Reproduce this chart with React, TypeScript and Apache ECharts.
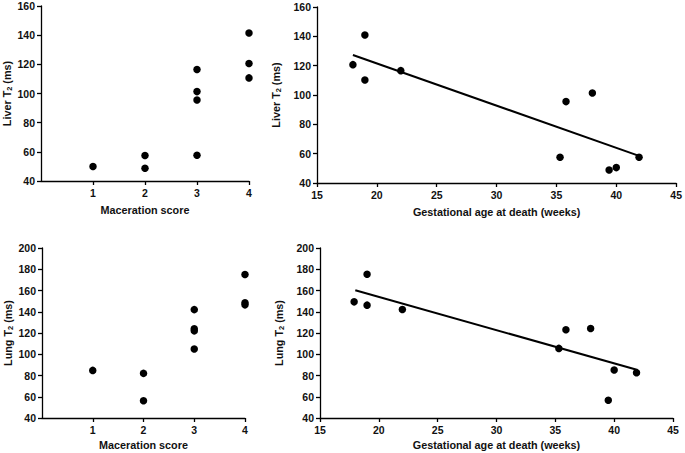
import React, { useEffect, useRef } from "react";
import * as echarts from "echarts";

const macerationScores = [1, 2, 2, 3, 3, 3, 3, 4, 4, 4];
const liverByScore = [50, 57.5, 48.7, 116.4, 101.3, 95.6, 57.6, 141.5, 120.6, 110.7];
const lungByScore = [84.8, 82, 56.3, 142, 124, 122, 105, 175, 148.5, 146.5];

const gestAgeLiver = [18, 19, 19, 22, 35.3, 35.8, 38, 39.4, 40, 41.9];
const liverByAge = [120.7, 140.9, 110.2, 116.6, 57.5, 95.5, 101.4, 48.9, 50.5, 57.5];
const gestAgeLung = [17.9, 19, 19, 22, 35.3, 35.9, 38, 39.5, 40, 41.9];
const lungByAge = [149.3, 175.3, 146.2, 142.1, 105.5, 123, 124.3, 56.7, 85.1, 82.6];

const liverTrendX = [18, 41.9];
const liverTrendY = [127.3, 58.5];
const lungTrendX = [18, 42];
const lungTrendY = [160.3, 85.1];

const FONT = "'Liberation Sans', Arial, sans-serif";
const TXT = "#111";

const zip = (xs: number[], ys: number[]) => xs.map((x, i) => [x, ys[i]]);

export default function App() {
  const ref = useRef<HTMLDivElement>(null);
  useEffect(() => {
    if (!ref.current) return;
    const chart = echarts.init(ref.current, null, { renderer: "svg" });
    const axisLine = { show: true, lineStyle: { color: "#000", width: 1.3 } };
    const axisTick = { show: true, inside: false, length: 4, lineStyle: { color: "#000", width: 1.3 } };
    const axisLabel = { color: TXT, fontFamily: FONT, fontWeight: "bold" as const, fontSize: 10.5 };
    const nameStyle = {
      color: TXT,
      fontFamily: FONT,
      fontWeight: "bold" as const,
      fontSize: 10.8,
      rich: {
        sub: { fontSize: 7.5, fontFamily: FONT, fontWeight: "bold" as const, color: TXT, padding: [5, 0, 0, 0] },
      },
    };
    const grids = [
      { left: 41, top: 6, width: 208, height: 175 },
      { left: 317, top: 7, width: 361, height: 176 },
      { left: 42, top: 248, width: 203, height: 170 },
      { left: 320, top: 248, width: 353, height: 170 },
    ];
    const xAxes = [
      { min: 0, max: 4, interval: 1, name: "Maceration score", showMin: false },
      { min: 15, max: 45, interval: 5, name: "Gestational age at death (weeks)", showMin: true },
      { min: 0, max: 4, interval: 1, name: "Maceration score", showMin: false },
      { min: 15, max: 45, interval: 5, name: "Gestational age at death (weeks)", showMin: true },
    ].map((a, i) => ({
      type: "value" as const,
      gridIndex: i,
      min: a.min,
      max: a.max,
      interval: a.interval,
      name: a.name,
      nameLocation: "middle" as const,
      nameGap: i < 2 ? 23 : 21,
      nameTextStyle: nameStyle,
      axisLine,
      axisTick,
      axisLabel: { ...axisLabel, margin: 6, showMinLabel: a.showMin },
      splitLine: { show: false },
    }));
    const yAxes = [
      { min: 40, max: 160, name: "Liver T{sub|2} (ms)" },
      { min: 40, max: 160, name: "Liver T{sub|2} (ms)" },
      { min: 40, max: 200, name: "Lung T{sub|2} (ms)" },
      { min: 40, max: 200, name: "Lung T{sub|2} (ms)" },
    ].map((a, i) => ({
      type: "value" as const,
      gridIndex: i,
      min: a.min,
      max: a.max,
      interval: 20,
      name: a.name,
      nameLocation: "middle" as const,
      nameGap: 28,
      nameTextStyle: nameStyle,
      axisLine,
      axisTick,
      axisLabel: { ...axisLabel, margin: 6 },
      splitLine: { show: false },
    }));
    const scatter = (i: number, data: number[][]) => ({
      type: "scatter" as const,
      xAxisIndex: i,
      yAxisIndex: i,
      symbol: "circle",
      symbolSize: 7.5,
      itemStyle: { color: "#000", opacity: 1 },
      data,
    });
    const trend = (i: number, data: number[][]) => ({
      type: "line" as const,
      xAxisIndex: i,
      yAxisIndex: i,
      showSymbol: false,
      symbol: "none",
      lineStyle: { color: "#000", width: 2 },
      data,
    });
    chart.setOption({
      animation: false,
      backgroundColor: "#fff",
      grid: grids,
      xAxis: xAxes,
      yAxis: yAxes,
      series: [
        scatter(0, zip(macerationScores, liverByScore)),
        trend(1, zip(liverTrendX, liverTrendY)),
        scatter(1, zip(gestAgeLiver, liverByAge)),
        scatter(2, zip(macerationScores, lungByScore)),
        trend(3, zip(lungTrendX, lungTrendY)),
        scatter(3, zip(gestAgeLung, lungByAge)),
      ],
    });
    return () => chart.dispose();
  }, []);
  return (
    <div
      ref={ref}
      style={{ position: "fixed", left: 0, top: 0, width: 685, height: 453, background: "#fff" }}
    />
  );
}
